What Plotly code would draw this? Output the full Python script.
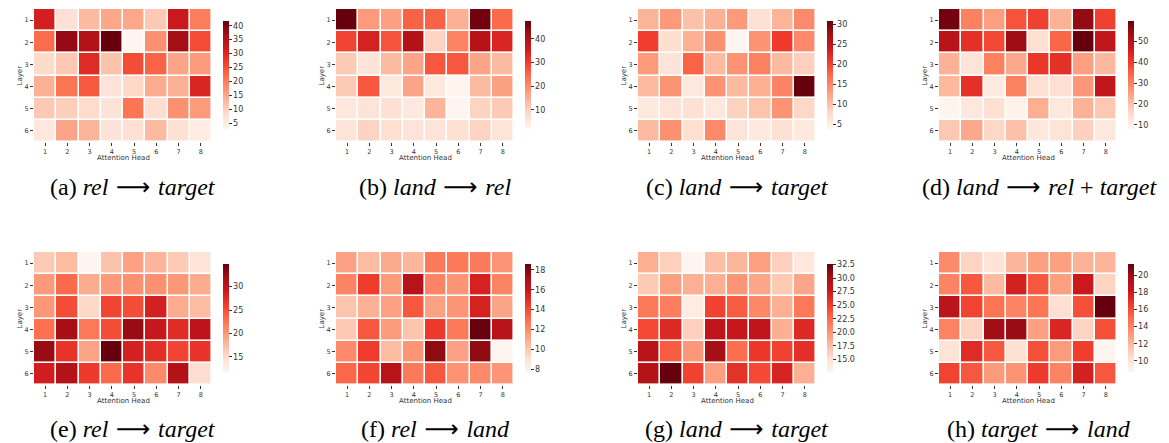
import plotly.graph_objects as go

heads = [1, 2, 3, 4, 5, 6, 7, 8]
layers = [1, 2, 3, 4, 5, 6]

vals_a = [
    [31.0, 7.5, 12.6, 15.0, 15.0, 10.7, 32.0, 20.0],
    [22.0, 38.0, 35.0, 41.7, 2.9, 17.6, 37.0, 25.5],
    [8.3, 10.7, 29.3, 11.5, 25.4, 23.0, 15.3, 16.5],
    [13.8, 21.0, 24.0, 6.8, 8.7, 14.5, 13.8, 30.0],
    [10.7, 10.0, 8.3, 6.8, 21.0, 8.0, 17.6, 16.5],
    [6.0, 15.3, 13.4, 6.8, 7.5, 12.6, 7.5, 4.8],
]
vals_b = [
    [47.5, 17.9, 17.0, 25.6, 25.6, 14.7, 46.5, 24.7],
    [29.3, 34.7, 27.4, 39.7, 9.6, 21.0, 39.3, 33.8],
    [11.0, 6.5, 13.3, 16.5, 27.0, 27.0, 16.5, 13.3],
    [11.0, 27.0, 5.5, 16.5, 5.1, 2.5, 13.3, 17.0],
    [5.5, 6.5, 7.4, 5.1, 14.2, 1.9, 9.6, 11.0],
    [6.5, 9.6, 7.8, 6.5, 6.5, 7.4, 9.6, 6.5],
]
vals_c = [
    [11.1, 13.3, 10.0, 11.4, 13.3, 7.0, 11.1, 14.6],
    [20.5, 7.3, 11.4, 14.0, 3.8, 13.8, 20.8, 14.6],
    [13.3, 6.5, 17.8, 10.6, 13.8, 15.4, 10.6, 8.7],
    [10.6, 13.8, 6.0, 13.8, 10.6, 11.4, 15.1, 30.8],
    [5.7, 6.5, 7.0, 6.0, 8.4, 9.7, 13.8, 7.9],
    [10.6, 14.0, 7.3, 14.6, 6.5, 5.7, 7.0, 5.7],
]
vals_d = [
    [58.5, 30.2, 25.5, 37.0, 39.6, 22.3, 55.0, 39.6],
    [50.0, 42.3, 38.6, 53.8, 14.5, 34.4, 59.8, 48.5],
    [22.3, 13.4, 30.2, 23.9, 41.2, 42.3, 25.5, 21.3],
    [21.3, 42.3, 11.3, 30.2, 14.5, 14.5, 26.5, 48.5],
    [8.0, 12.4, 14.5, 9.0, 22.9, 12.4, 22.3, 18.7],
    [18.7, 23.9, 16.0, 20.2, 12.4, 13.4, 17.1, 12.4],
]
vals_e = [
    [16.4, 17.5, 11.8, 16.9, 19.4, 18.0, 16.4, 14.1],
    [19.9, 23.3, 18.7, 19.9, 20.5, 20.5, 20.1, 18.7],
    [20.1, 25.1, 15.3, 25.6, 25.1, 28.4, 18.7, 17.5],
    [22.8, 31.8, 22.2, 25.1, 32.5, 29.5, 27.4, 30.2],
    [32.5, 26.8, 19.2, 34.8, 28.4, 27.2, 25.6, 26.8],
    [28.6, 30.9, 26.3, 23.3, 26.8, 21.0, 30.9, 14.8],
]
vals_f = [
    [11.3, 10.4, 11.0, 10.6, 12.6, 12.6, 12.6, 11.7],
    [12.3, 14.5, 11.5, 16.6, 12.3, 11.7, 15.5, 12.3],
    [10.1, 10.8, 11.3, 13.7, 11.3, 11.7, 15.5, 11.2],
    [9.9, 13.7, 11.5, 10.1, 14.6, 12.6, 18.6, 16.6],
    [12.1, 14.5, 10.4, 11.7, 17.7, 11.3, 17.7, 7.7],
    [13.2, 14.2, 16.6, 12.6, 13.7, 11.8, 12.1, 11.7],
]
vals_g = [
    [18.4, 16.3, 12.7, 17.4, 18.0, 19.4, 16.3, 14.3],
    [16.7, 19.4, 18.4, 18.4, 20.0, 19.0, 16.7, 19.0],
    [21.8, 21.4, 13.9, 24.8, 23.4, 20.8, 18.4, 21.8],
    [24.4, 26.4, 16.3, 28.5, 28.1, 28.5, 18.4, 26.4],
    [28.9, 23.4, 19.8, 30.1, 22.4, 25.4, 24.8, 26.0],
    [29.1, 32.6, 24.8, 19.4, 25.8, 24.4, 26.8, 18.4],
]
vals_h = [
    [13.7, 10.8, 10.0, 12.1, 12.9, 12.9, 12.2, 12.1],
    [14.0, 15.6, 11.9, 17.8, 15.6, 12.9, 18.2, 10.8],
    [18.8, 16.3, 14.6, 14.0, 14.6, 10.3, 15.9, 21.3],
    [14.0, 10.8, 19.8, 20.0, 12.9, 17.5, 10.8, 15.9],
    [10.0, 17.3, 15.6, 10.2, 15.9, 13.1, 16.5, 8.7],
    [16.3, 15.6, 13.1, 13.4, 16.6, 14.0, 17.8, 15.6],
]

ARROW = "<span style='font-family:DejaVu Sans;font-style:normal;font-weight:normal'> ⟶ </span>"
captions = [
    "(a) <i>rel</i>" + ARROW + "<i>target</i>",
    "(b) <i>land</i>" + ARROW + "<i>rel</i>",
    "(c) <i>land</i>" + ARROW + "<i>target</i>",
    "(d) <i>land</i>" + ARROW + "<i>rel</i> + <i>target</i>",
    "(e) <i>rel</i>" + ARROW + "<i>target</i>",
    "(f) <i>rel</i>" + ARROW + "<i>land</i>",
    "(g) <i>land</i>" + ARROW + "<i>target</i>",
    "(h) <i>target</i>" + ARROW + "<i>land</i>",
]
all_vals = [vals_a, vals_b, vals_c, vals_d, vals_e, vals_f, vals_g, vals_h]
cb_dticks = [5, 10, 5, 10, 5, 2, 2.5, 2]
cb_formats = ["d", "d", "d", "d", "d", "d", ".1f", "d"]

W, H = 1169, 443
reds = [[0.0, "#fff5f0"], [0.125, "#fee0d2"], [0.25, "#fcbba1"], [0.375, "#fc9272"],
        [0.5, "#fb6a4a"], [0.625, "#ef3b2c"], [0.75, "#cb181d"], [0.875, "#a50f15"],
        [1.0, "#67000d"]]

col_left = [34, 336, 638, 939]
hm_w = 178
rows_top = [9, 252]
hm_h = 133
cap_cx = [133, 435, 737, 1039]
cap_cy = [187, 429]

fig = go.Figure()
layout = {}
annotations = []
font = "DejaVu Sans"
for i in range(8):
    r, c = divmod(i, 4)
    x0 = col_left[c]
    y0 = rows_top[r]
    ax = "" if i == 0 else str(i + 1)
    fig.add_trace(go.Heatmap(
        z=all_vals[i], x=heads, y=layers, colorscale=reds,
        xgap=1.6, ygap=1.6, xaxis="x" + ax, yaxis="y" + ax,
        colorbar=dict(
            x=(x0 + hm_w + 11) / W, xanchor="left", xref="paper",
            y=1 - (y0 + 12) / H, yanchor="top", yref="paper",
            len=108, lenmode="pixels", thickness=6, thicknessmode="pixels",
            xpad=0, ypad=0, outlinewidth=0, ticks="outside", ticklen=3,
            tickwidth=0.8, tickcolor="#333", dtick=cb_dticks[i], tickformat=cb_formats[i],
            tickfont=dict(family=font, size=8, color="#333"),
        ),
    ))
    layout["xaxis" + ax] = dict(
        domain=[x0 / W, (x0 + hm_w) / W], anchor="y" + ax, range=[0.5, 8.5],
        tickvals=heads, ticks="outside", ticklen=3, tickwidth=0.8, tickcolor="#333",
        showgrid=False, zeroline=False, showline=False,
        tickfont=dict(family=font, size=6.5, color="#333"),
    )
    layout["yaxis" + ax] = dict(
        domain=[1 - (y0 + hm_h) / H, 1 - y0 / H], anchor="x" + ax, range=[6.5, 0.5],
        tickvals=layers, ticks="outside", ticklen=3, tickwidth=0.8, tickcolor="#333",
        showgrid=False, zeroline=False, showline=False,
        tickfont=dict(family=font, size=6.5, color="#333"),
    )
    annotations.append(dict(
        text="Attention Head", x=(x0 + hm_w / 2) / W, y=1 - (y0 + hm_h + 16) / H,
        xref="paper", yref="paper", showarrow=False, xanchor="center", yanchor="middle",
        font=dict(family=font, size=7, color="#333"),
    ))
    annotations.append(dict(
        text="Layer", x=(x0 - 15) / W, y=1 - (y0 + hm_h / 2) / H, textangle=-90,
        xref="paper", yref="paper", showarrow=False, xanchor="center", yanchor="middle",
        font=dict(family=font, size=7, color="#333"),
    ))
    annotations.append(dict(
        text=captions[i], x=cap_cx[c] / W, y=1 - cap_cy[r] / H,
        xref="paper", yref="paper", showarrow=False, xanchor="center", yanchor="middle",
        font=dict(family="Liberation Serif", size=24, color="#000"),
    ))

fig.update_layout(
    width=W, height=H, margin=dict(l=0, r=0, t=0, b=0),
    paper_bgcolor="white", plot_bgcolor="white", showlegend=False,
    annotations=annotations, **layout,
)
fig.write_html("out.html", config={"displayModeBar": False},
               post_script="document.body.style.margin='0px';document.body.style.overflow='hidden';")
